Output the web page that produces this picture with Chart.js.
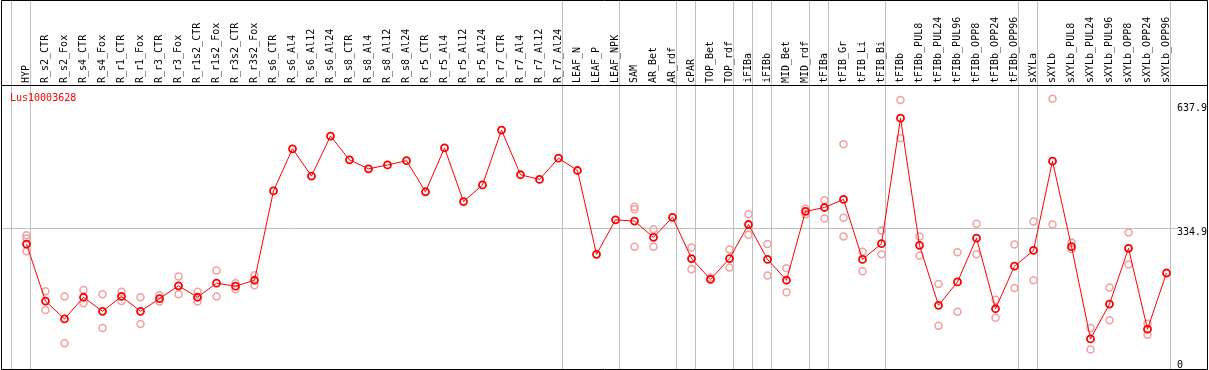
<!DOCTYPE html>
<html>
<head>
<meta charset="utf-8">
<script src="https://cdn.jsdelivr.net/npm/chart.js@4/dist/chart.umd.min.js"></script>
<style>
  html, body { margin: 0; padding: 0; background: #fff; }
  canvas { display: block; }
</style>
</head>
<body>
<canvas id="geneChart" width="1209" height="370"></canvas>
<script>
// ---- data ----
const geneId = 'Lus10003628';

const samples = [
  'HYP', 'R_s2_CTR', 'R_s2_Fox', 'R_s4_CTR', 'R_s4_Fox', 'R_r1_CTR', 'R_r1_Fox', 'R_r3_CTR', 'R_r3_Fox',
  'R_r1s2_CTR', 'R_r1s2_Fox', 'R_r3s2_CTR', 'R_r3s2_Fox', 'R_s6_CTR', 'R_s6_Al4', 'R_s6_Al12', 'R_s6_Al24',
  'R_s8_CTR', 'R_s8_Al4', 'R_s8_Al12', 'R_s8_Al24', 'R_r5_CTR', 'R_r5_Al4', 'R_r5_Al12', 'R_r5_Al24',
  'R_r7_CTR', 'R_r7_Al4', 'R_r7_Al12', 'R_r7_Al24', 'LEAF_N', 'LEAF_P', 'LEAF_NPK', 'SAM', 'AR_Bet', 'AR_rdf',
  'cPAR', 'TOP_Bet', 'TOP_rdf', 'iFIBa', 'iFIBb', 'MID_Bet', 'MID_rdf', 'tFIBa', 'tFIB_Gr', 'tFIB_Li', 'tFIB_Bi',
  'tFIBb', 'tFIBb_PUL8', 'tFIBb_PUL24', 'tFIBb_PUL96', 'tFIBb_OPP8', 'tFIBb_OPP24', 'tFIBb_OPP96',
  'sXYLa', 'sXYLb', 'sXYLb_PUL8', 'sXYLb_PUL24', 'sXYLb_PUL96', 'sXYLb_OPP8', 'sXYLb_OPP24', 'sXYLb_OPP96'
];

// index of the last sample in each group (-1 = left edge)
const groupEnds = [-1, 0, 28, 31, 34, 35, 37, 38, 39, 41, 42, 45, 52, 53, 60];

const meanValues = [
  296, 162, 120, 171, 138, 173, 138, 168, 198, 171, 204, 197, 211, 421, 520, 456, 550,
  494, 473, 482, 492, 419, 522, 396, 435, 564, 459, 448, 498, 469, 272, 353, 350, 312, 359,
  262, 213, 262, 342, 260, 211, 373, 382, 401, 260, 297,
  592, 293, 152, 207, 310, 144, 244,
  281, 491, 290, 73, 155, 286, 96, 228
];

const rep1 = [
  317, 185, 173, 188, 178, 184, 171, 176, 220, 184, 234, 204, 223, null, null, null, null,
  null, null, null, null, null, null, null, null, null, null, null, null, null, null, null, 384, 331, null,
  288, 217, 283, 366, 296, 239, 379, 399, 531, 278, 328,
  635, 314, 202, 277, 344, 165, 295,
  349, 637.9, 300, 99, 194, 323, 109, null
];

const rep2 = [
  279, 141, 63, 157, 99, 162, 108, 161, 178, 161, 173, 190, 199, null, null, null, null,
  null, null, null, null, null, null, null, null, null, null, null, null, null, null, null, 290, 290, null,
  237, null, 241, 318, 222, 183, 366, 356, 358, 232, 272,
  545, 269, 104, 137, 272, 123, 193,
  211, 342, 284, 48, 117, 248, 83, null
];

const rep3 = [
  309, null, null, null, null, null, null, null, null, null, null, null, null, null, null, null, null,
  null, null, null, null, null, null, null, null, null, null, null, null, null, null, null, 378, null, null,
  null, null, null, null, null, null, null, null, 314, null, null,
  null, null, null, null, null, null, null,
  null, null, null, null, null, null, null, null
];

const yTicks = [0, 334.9, 637.9];
const yGrid = [334.9];

// ---- drawing helpers ----
const MONO = '10px "DejaVu Sans Mono", monospace';
const GRID = '#c0c0c0';

const framePlugin = {
  id: 'frame',
  beforeDatasetsDraw(chart) {
    const { ctx, scales: { x, y }, height } = chart;
    ctx.save();
    ctx.strokeStyle = GRID;
    ctx.lineWidth = 1;
    // horizontal grid
    yGrid.forEach(v => {
      const py = Math.round(y.getPixelForValue(v)) + 0.5;
      ctx.beginPath();
      ctx.moveTo(1, py);
      ctx.lineTo(x.right + 2, py);
      ctx.stroke();
    });
    // group separators, full height
    groupEnds.forEach(i => {
      const px = Math.floor(x.getPixelForValue(i) + 4.5) - 0.5;
      ctx.beginPath();
      ctx.moveTo(px, 0);
      ctx.lineTo(px, height);
      ctx.stroke();
    });
    ctx.restore();
  },
  afterDraw(chart) {
    const { ctx, scales: { x, y }, width, chartArea } = chart;
    ctx.save();
    ctx.font = MONO;
    ctx.fillStyle = '#000';

    // sample labels, rotated
    ctx.textAlign = 'left';
    ctx.textBaseline = 'alphabetic';
    samples.forEach((s, i) => {
      const px = x.getPixelForValue(i);
      ctx.save();
      ctx.translate(px + 2, chartArea.top - 2);
      ctx.rotate(-Math.PI / 2);
      ctx.fillText(s, 0, 0);
      ctx.restore();
    });

    // value labels on the right
    ctx.textBaseline = 'top';
    yTicks.forEach(v => {
      let py = y.getPixelForValue(v);
      py = Math.min(Math.max(py, chartArea.top + 18), 369 - 9);
      ctx.fillText(String(v), x.right + 1, py);
    });

    // gene title
    ctx.fillStyle = '#ff0000';
    ctx.textBaseline = 'alphabetic';
    ctx.fillText(geneId, 10, chartArea.top + 16);

    // black frame
    ctx.strokeStyle = '#000';
    ctx.lineWidth = 1;
    ctx.beginPath();
    ctx.rect(1.5, 0.5, width - 3, 369);
    ctx.moveTo(1, chartArea.top + 0.5);
    ctx.lineTo(width - 1, chartArea.top + 0.5);
    ctx.stroke();
    ctx.restore();
  }
};

const repStyle = {
  type: 'line',
  showLine: false,
  pointRadius: 3.5,
  pointBorderWidth: 1.5,
  pointBorderColor: '#f0a0a0',
  pointBackgroundColor: 'rgba(0,0,0,0)',
  clip: false
};

new Chart(document.getElementById('geneChart'), {
  type: 'line',
  data: {
    labels: samples,
    datasets: [
      {
        data: meanValues,
        borderColor: '#ff0000',
        borderWidth: 1,
        tension: 0,
        pointRadius: 3.5,
        pointBorderWidth: 1.8,
        pointBorderColor: '#ff0000',
        pointBackgroundColor: 'rgba(0,0,0,0)',
        clip: false
      },
      { ...repStyle, data: rep1 },
      { ...repStyle, data: rep2 },
      { ...repStyle, data: rep3 }
    ]
  },
  options: {
    responsive: false,
    animation: false,
    devicePixelRatio: 1,
    layout: { autoPadding: false, padding: { left: 17, right: 33, top: 85, bottom: -2 } },
    scales: {
      x: { display: false, offset: true },
      y: { display: false, min: 0, max: 670 }
    },
    plugins: {
      legend: { display: false },
      tooltip: { enabled: false }
    }
  },
  plugins: [framePlugin]
});
</script>
</body>
</html>
